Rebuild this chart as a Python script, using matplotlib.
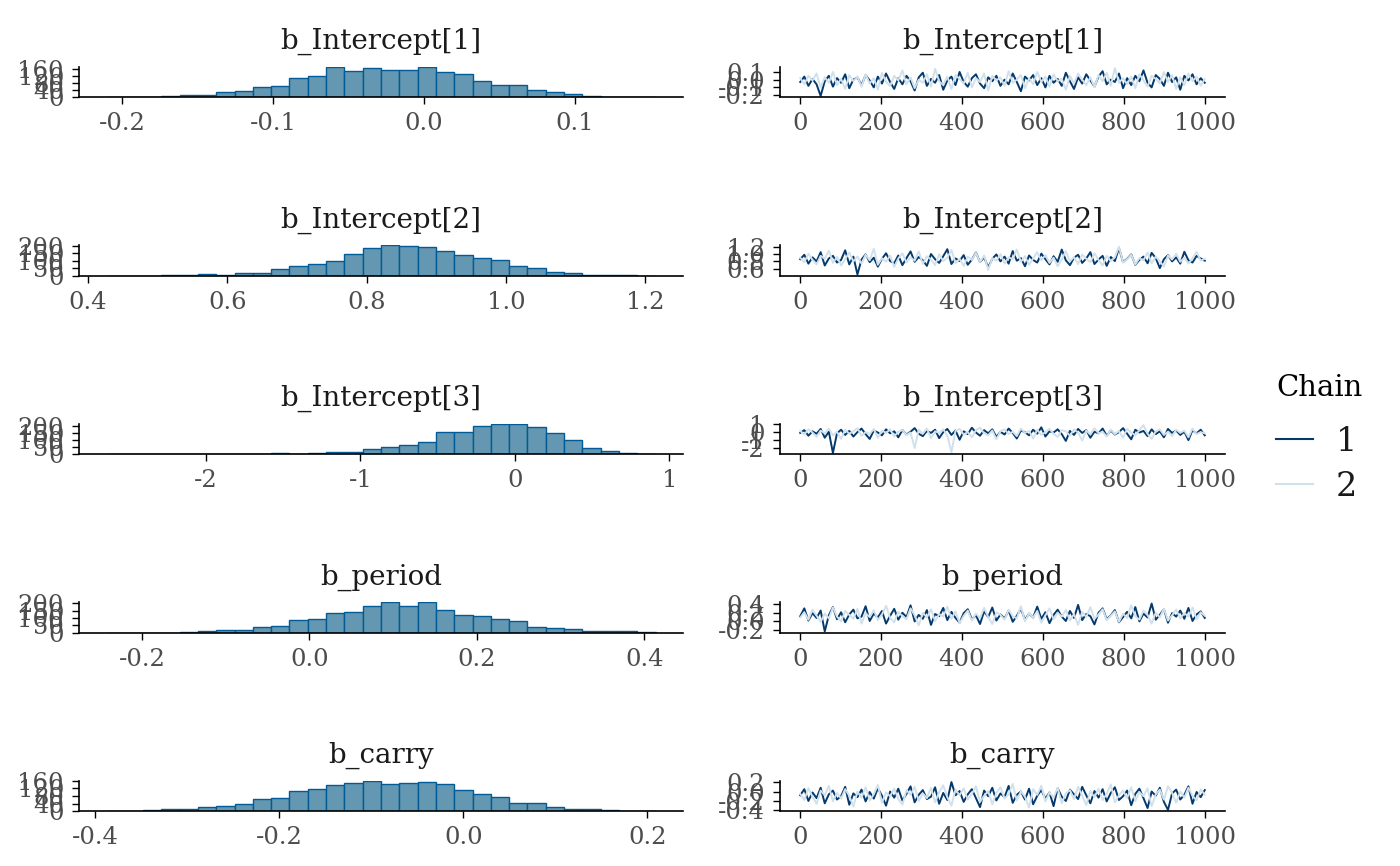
"""brms 모델 사후분포: 히스토그램 + 트레이스 (2 chains)"""
import numpy as np
import matplotlib.pyplot as plt
from matplotlib import rcParams
from matplotlib.ticker import MultipleLocator
from matplotlib.lines import Line2D

rcParams['font.family'] = 'DejaVu Serif'
rcParams['axes.unicode_minus'] = False

params = ['b_Intercept[1]', 'b_Intercept[2]', 'b_Intercept[3]', 'b_period', 'b_carry']

# histogram: 30 bins between lo and hi, counts
hist_lo = [-0.2103, 0.4266, -2.643, -0.2425, -0.3879]
hist_hi = [0.1533, 1.2146, 0.910, 0.4133, 0.2090]
counts_int1 = [1, 0, 1, 7, 12, 12, 28, 34, 59, 66, 107, 121, 169, 148, 167,
               151, 155, 172, 144, 130, 89, 68, 71, 39, 30, 18, 9, 2, 3, 1]
counts_int2 = [1, 1, 1, 2, 3, 10, 6, 17, 21, 42, 62, 75, 96, 142, 185,
               202, 194, 187, 162, 137, 117, 104, 62, 50, 27, 19, 6, 8, 2, 1]
counts_int3 = [1, 0, 0, 0, 1, 0, 1, 1, 4, 6, 4, 6, 14, 18, 39,
               55, 64, 90, 161, 159, 200, 218, 214, 198, 149, 101, 48, 21, 7, 2]
counts_period = [1, 0, 1, 1, 4, 11, 21, 19, 40, 45, 83, 92, 136, 143, 179,
                 204, 179, 206, 151, 123, 113, 92, 77, 40, 32, 23, 15, 9, 9, 4]
counts_carry = [2, 3, 7, 10, 10, 23, 27, 40, 63, 67, 105, 118, 140, 150, 160,
                142, 147, 155, 143, 113, 90, 73, 45, 43, 25, 10, 13, 8, 3, 2]

# trace: every 10th draw, read off roughly
c1_int1 = [-0.03, 0.04, -0.08, 0.01, -0.06, -0.21, -0.02, 0.05, -0.09, 0.02,
           -0.04, 0.07, -0.11, 0.00, 0.03, -0.07, 0.06, -0.01, -0.10, 0.04,
           -0.05, 0.08, -0.03, -0.12, 0.02, -0.06, 0.05, -0.02, -0.14, 0.03,
           0.09, -0.08, 0.01, -0.04, 0.06, -0.13, -0.01, 0.04, -0.07, 0.10,
           -0.03, -0.09, 0.02, 0.07, -0.05, -0.11, 0.03, -0.02, 0.05, -0.08,
           0.00, -0.06, 0.08, -0.03, -0.15, 0.04, -0.01, 0.06, -0.07, 0.02,
           -0.10, 0.05, -0.04, 0.01, -0.08, 0.09, -0.02, -0.12, 0.03, -0.05,
           0.07, -0.01, -0.09, 0.04, 0.11, -0.06, 0.00, -0.03, 0.08, -0.11,
           0.02, -0.07, 0.05, -0.02, 0.12, -0.04, -0.10, 0.06, 0.01, -0.08,
           0.09, -0.03, 0.03, -0.13, 0.05, -0.01, 0.07, -0.06, 0.02, -0.04]
c2_int1 = [0.02, -0.06, 0.05, -0.01, 0.08, -0.10, 0.03, -0.04, 0.10, -0.07,
           0.01, -0.12, 0.06, -0.02, 0.04, -0.09, 0.07, -0.05, 0.02, -0.13,
           0.09, -0.03, -0.08, 0.05, -0.01, 0.12, -0.06, 0.03, -0.11, 0.00,
           -0.04, 0.07, -0.09, 0.14, -0.02, -0.07, 0.04, -0.12, 0.06, 0.01,
           -0.05, 0.09, -0.10, 0.02, -0.03, 0.08, -0.14, 0.05, -0.01, 0.03,
           -0.08, 0.11, -0.04, 0.00, 0.06, -0.11, 0.02, -0.06, 0.10, -0.03,
           0.04, -0.09, 0.07, -0.02, 0.01, -0.13, 0.05, -0.05, 0.08, 0.00,
           -0.07, 0.03, -0.10, 0.06, -0.02, 0.09, -0.08, 0.15, -0.04, 0.02,
           -0.06, 0.04, -0.11, 0.07, -0.01, -0.09, 0.05, 0.01, -0.05, 0.10,
           -0.03, 0.06, -0.12, 0.03, -0.07, 0.08, -0.02, 0.04, -0.08, 0.01]
c1_int2 = [0.86, 0.98, 0.74, 0.91, 0.80, 1.05, 0.69, 0.88, 0.95, 0.77,
           0.84, 1.10, 0.72, 0.93, 0.45, 0.85, 0.99, 0.78, 0.90, 0.66,
           0.87, 1.02, 0.81, 0.75, 0.96, 0.70, 0.89, 1.07, 0.79, 0.92,
           0.83, 0.68, 1.00, 0.86, 0.76, 0.94, 1.13, 0.73, 0.88, 0.81,
           0.97, 0.71, 0.85, 1.04, 0.78, 0.91, 0.64, 0.87, 0.99, 0.80,
           0.93, 0.74, 1.08, 0.82, 0.89, 0.67, 0.96, 0.84, 0.77, 1.01,
           0.86, 0.72, 0.94, 0.79, 1.12, 0.83, 0.70, 0.90, 0.98, 0.76,
           0.88, 1.05, 0.73, 0.85, 0.95, 0.68, 0.92, 0.81, 1.16, 0.78,
           0.87, 0.99, 0.71, 0.84, 0.93, 0.75, 1.03, 0.89, 0.62, 0.86,
           0.97, 0.80, 0.91, 0.74, 1.06, 0.83, 0.77, 0.95, 0.88, 0.82]
c2_int2 = [0.90, 0.78, 1.01, 0.84, 0.72, 0.95, 0.87, 1.09, 0.76, 0.92,
           0.69, 0.86, 1.04, 0.80, 0.93, 0.74, 0.98, 0.83, 1.14, 0.71,
           0.89, 0.79, 0.96, 0.65, 0.88, 1.02, 0.77, 0.91, 0.82, 1.07,
           0.73, 0.94, 0.85, 0.70, 0.99, 0.81, 0.90, 1.11, 0.75, 0.87,
           0.68, 0.93, 0.84, 1.03, 0.78, 0.96, 0.57, 0.89, 0.82, 1.00,
           0.74, 0.91, 0.86, 1.12, 0.79, 0.94, 0.71, 0.88, 1.05, 0.83,
           0.97, 0.76, 0.90, 0.67, 0.85, 1.08, 0.80, 0.92, 0.73, 0.99,
           0.87, 0.78, 1.02, 0.84, 0.69, 0.95, 0.81, 0.91, 1.20, 0.77,
           0.86, 0.98, 0.72, 0.89, 0.83, 1.04, 0.75, 0.93, 0.80, 0.66,
           0.96, 0.85, 1.01, 0.79, 0.90, 0.74, 0.88, 1.06, 0.82, 0.87]
c1_int3 = [-0.10, 0.25, -0.45, 0.10, -0.20, 0.40, -0.70, 0.05, -2.60, -0.15,
           0.30, -0.35, 0.15, -0.55, 0.00, 0.45, -0.25, -0.85, 0.20, -0.05,
           -0.40, 0.35, -0.15, 0.10, -0.65, 0.25, -0.30, 0.05, 0.50, -0.20,
           -0.50, 0.15, -0.10, 0.30, -0.75, 0.00, 0.40, -0.35, 0.20, -0.95,
           0.10, -0.25, 0.55, -0.05, -0.45, 0.25, -0.15, 0.35, -0.60, 0.05,
           -0.30, 0.45, -0.10, -0.80, 0.20, 0.00, -0.40, 0.30, -0.20, 0.60,
           -0.55, 0.10, -0.05, 0.35, -0.25, -1.10, 0.15, -0.35, 0.40, -0.10,
           0.25, -0.70, 0.05, -0.15, 0.45, -0.45, 0.20, -0.30, 0.00, 0.50,
           -0.20, -0.90, 0.30, -0.05, 0.15, -0.50, 0.35, -0.25, 0.10, -0.65,
           0.40, -0.10, 0.20, -0.35, 0.05, -1.00, 0.25, -0.15, 0.30, -0.40]
c2_int3 = [0.15, -0.30, 0.35, -0.05, -0.60, 0.20, -0.15, 0.45, -0.40, 0.05,
           -0.85, 0.30, -0.20, 0.10, 0.50, -0.45, 0.00, -0.25, 0.40, -0.70,
           0.20, -0.10, 0.35, -0.55, 0.05, 0.25, -0.35, -0.05, -2.00, 0.30,
           -0.20, 0.45, -0.75, 0.10, -0.10, 0.35, -0.45, -2.50, 0.15, 0.40,
           -0.30, 0.00, -0.65, 0.25, 0.55, -0.15, -0.40, 0.20, -0.90, 0.10,
           0.35, -0.25, 0.05, -0.50, 0.45, -0.10, 0.15, -0.80, 0.30, -0.35,
           0.00, 0.40, -0.20, -0.60, 0.25, 0.10, -0.45, 0.35, -0.05, -1.05,
           0.20, -0.30, 0.50, -0.15, 0.05, -0.55, 0.30, -0.25, 0.15, -0.70,
           0.40, -0.05, -0.40, 0.25, 0.88, -0.20, -0.85, 0.10, 0.35, -0.35,
           0.05, -0.50, 0.30, -0.10, 0.20, -0.65, 0.45, -0.25, 0.00, -0.15]
c1_period = [0.12, 0.30, 0.02, 0.19, 0.08, 0.25, -0.23, 0.14, 0.33, 0.05,
             0.21, -0.02, 0.16, 0.27, 0.07, 0.11, 0.35, 0.01, 0.18, 0.09,
             0.24, -0.05, 0.13, 0.29, 0.04, 0.20, 0.10, 0.37, 0.00, 0.15,
             0.06, 0.26, -0.08, 0.17, 0.12, 0.31, 0.03, 0.22, 0.08, -0.03,
             0.19, 0.28, 0.05, 0.14, -0.06, 0.23, 0.10, 0.32, 0.02, 0.16,
             0.07, 0.25, -0.01, 0.13, 0.29, 0.04, 0.18, 0.09, 0.34, 0.06,
             0.21, -0.04, 0.15, 0.27, 0.11, 0.01, 0.24, 0.08, 0.38, 0.03,
             0.17, 0.12, -0.07, 0.20, 0.30, 0.05, 0.14, 0.26, -0.02, 0.10,
             0.22, 0.07, 0.33, 0.00, 0.18, 0.09, 0.41, 0.04, 0.15, 0.28,
             -0.03, 0.19, 0.11, 0.25, 0.06, 0.31, 0.01, 0.16, 0.23, 0.08]
c2_period = [0.09, 0.21, 0.04, 0.27, 0.13, -0.01, 0.18, 0.07, 0.32, 0.11,
             0.00, 0.24, 0.15, 0.06, 0.29, -0.05, 0.19, 0.10, 0.26, 0.03,
             0.16, 0.36, 0.08, -0.02, 0.22, 0.12, 0.05, 0.30, 0.14, -0.09,
             0.20, 0.09, 0.28, 0.01, 0.17, 0.11, 0.34, 0.06, 0.23, -0.04,
             0.13, 0.25, 0.02, 0.18, 0.08, 0.31, 0.10, -0.06, 0.21, 0.15,
             0.04, 0.27, 0.12, 0.07, 0.35, 0.00, 0.19, 0.09, 0.24, -0.03,
             0.14, 0.30, 0.05, 0.20, 0.11, 0.26, 0.02, 0.17, -0.08, 0.22,
             0.10, 0.33, 0.06, 0.16, 0.28, 0.03, 0.13, 0.23, -0.01, 0.18,
             0.08, 0.37, 0.12, 0.04, 0.25, 0.15, -0.05, 0.20, 0.09, 0.29,
             0.02, 0.14, 0.27, 0.07, 0.19, 0.11, 0.32, 0.05, 0.21, 0.13]
c1_carry = [-0.08, 0.05, -0.20, -0.02, -0.14, 0.08, -0.25, -0.06, 0.02, -0.17,
            -0.10, 0.10, -0.28, -0.04, -0.12, 0.04, -0.21, -0.01, -0.15, 0.07,
            -0.09, -0.30, 0.00, -0.13, 0.06, -0.19, -0.05, 0.11, -0.23, -0.07,
            0.03, -0.16, -0.11, 0.09, -0.26, -0.03, -0.18, 0.20, -0.08, 0.01,
            -0.22, -0.06, 0.05, -0.14, -0.33, 0.02, -0.10, 0.08, -0.19, -0.04,
            -0.12, 0.12, -0.24, -0.07, 0.00, -0.17, 0.06, -0.27, -0.09, 0.03,
            -0.15, -0.02, -0.31, 0.07, -0.11, -0.20, 0.04, -0.06, -0.16, 0.10,
            -0.08, -0.25, 0.01, -0.13, 0.05, -0.21, -0.03, 0.09, -0.18, -0.10,
            0.02, -0.29, -0.05, 0.06, -0.14, -0.35, 0.00, -0.09, 0.08, -0.22,
            -0.39, -0.04, 0.04, -0.17, -0.07, 0.11, -0.26, -0.01, -0.12, 0.03]
c2_carry = [-0.05, -0.18, 0.07, -0.11, -0.26, 0.02, -0.08, 0.12, -0.21, -0.03,
            -0.15, 0.05, -0.09, -0.32, 0.00, -0.13, 0.09, -0.19, -0.06, 0.14,
            -0.24, -0.02, -0.10, 0.06, -0.16, -0.28, 0.03, -0.07, 0.10, -0.20,
            -0.04, -0.14, 0.08, -0.23, -0.01, 0.13, -0.12, -0.30, 0.04, -0.08,
            0.07, -0.17, -0.05, 0.11, -0.22, -0.09, 0.01, -0.27, -0.03, 0.09,
            -0.15, -0.06, 0.16, -0.19, 0.00, -0.11, -0.34, 0.05, -0.07, 0.12,
            -0.21, -0.02, -0.13, 0.08, -0.25, -0.04, 0.03, -0.16, 0.10, -0.09,
            -0.29, 0.01, -0.12, 0.06, -0.18, -0.05, 0.15, -0.23, -0.08, 0.02,
            -0.14, 0.09, -0.20, -0.01, -0.10, 0.07, -0.31, -0.06, 0.04, -0.17,
            0.11, -0.03, -0.24, 0.00, -0.13, 0.08, -0.09, -0.19, 0.05, -0.07]

hist_counts = [counts_int1, counts_int2, counts_int3, counts_period, counts_carry]
chain1 = [c1_int1, c1_int2, c1_int3, c1_period, c1_carry]
chain2 = [c2_int1, c2_int2, c2_int3, c2_period, c2_carry]
n_iter = 1000

# 스타일
FILL, EDGE = '#6497b1', '#005b96'
DARK, LIGHT = '#03396c', '#d1e1ec'
x_step = [0.1, 0.2, 1, 0.2, 0.2]
hy_step = [40, 50, 50, 50, 40]
ty_step = [0.1, 0.2, 1, 0.2, 0.2]

W, H = 1400, 866
fig = plt.figure(figsize=(W / 100, H / 100), dpi=100)


def style(ax):
    for s in ['top', 'right']:
        ax.spines[s].set_visible(False)
    for s in ['left', 'bottom']:
        ax.spines[s].set_linewidth(1.2)
        ax.spines[s].set_color('black')
    ax.tick_params(length=5.3, width=1.0, pad=5.5, labelsize=17.5, labelcolor='#4d4d4d')
    ax.set_facecolor('white')


def add_title(ax, txt):
    ax.annotate(txt, xy=(0.5, 1), xycoords='axes fraction', xytext=(0, 18),
                textcoords='offset points', ha='center', va='center',
                fontsize=20, color='#1a1a1a')


ph = 30.6
for i, name in enumerate(params):
    bot = 97.3 + 178.5 * i
    y0 = 1 - bot / H

    # 히스토그램
    ax = fig.add_axes([79 / W, y0, (683 - 79) / W, ph / H])
    edges = np.linspace(hist_lo[i], hist_hi[i], len(hist_counts[i]) + 1)
    ax.bar(edges[:-1], hist_counts[i], width=np.diff(edges), align='edge',
           color=FILL, edgecolor=EDGE, linewidth=1.0)
    ax.margins(x=0.05)
    ax.set_ylim(0, max(hist_counts[i]))
    ax.xaxis.set_major_locator(MultipleLocator(x_step[i]))
    ax.yaxis.set_major_locator(MultipleLocator(hy_step[i]))
    style(ax)
    add_title(ax, name)

    # 트레이스
    ax2 = fig.add_axes([780 / W, y0, (1225 - 780) / W, ph / H])
    iters = np.linspace(1, n_iter, len(chain1[i]))
    ax2.plot(iters, chain1[i], color=DARK, linewidth=1.4)
    ax2.plot(iters, chain2[i], color=LIGHT, linewidth=1.4)
    ax2.set_xlim(1 - 0.05 * (n_iter - 1), n_iter + 0.05 * (n_iter - 1))
    ax2.margins(y=0.05)
    ax2.xaxis.set_major_locator(MultipleLocator(200))
    ax2.yaxis.set_major_locator(MultipleLocator(ty_step[i]))
    style(ax2)
    add_title(ax2, name)

handles = [Line2D([], [], color=DARK, linewidth=1.5),
           Line2D([], [], color=LIGHT, linewidth=1.5)]
leg = fig.legend(handles, ['1', '2'], title='Chain', loc='upper left',
                 bbox_to_anchor=(1276 / W, 1 - 374 / H), frameon=False,
                 fontsize=24, title_fontsize=21, handlelength=1.1,
                 handletextpad=0.7, labelspacing=0.4, borderpad=0, borderaxespad=0)
leg._legend_box.align = 'left'
leg._legend_box.sep = 17
for t in leg.get_texts():
    t.set_color('#1a1a1a')

fig.savefig('out.png', dpi=100, facecolor='white')
